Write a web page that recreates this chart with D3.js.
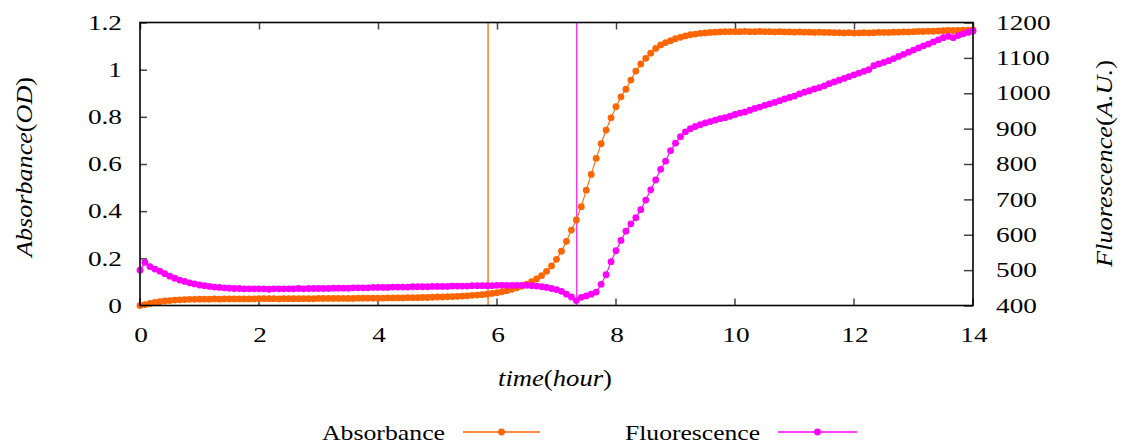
<!DOCTYPE html>
<html>
<head>
<meta charset="utf-8">
<script src="https://cdn.jsdelivr.net/npm/d3@7"></script>
<style>
  html, body { margin: 0; padding: 0; background: #fff; }
  svg { display: block; }
  text { font-family: "Liberation Serif", "Times New Roman", serif; fill: #000; }
</style>
</head>
<body>
<svg id="chart" width="1122" height="444"></svg>
<script>
// ---------------- data ----------------
const sampleIntervalMin = 5; // one reading every 5 minutes, 0 to 14 h
const absorbance = [
  0.000, 0.004, 0.009, 0.013, 0.016, 0.019, 0.021, 0.023, 0.024, 0.025, 0.026, 0.026, 0.027,
  0.027, 0.027, 0.028, 0.027, 0.028, 0.028, 0.028, 0.028, 0.028, 0.028, 0.028, 0.029,
  0.029, 0.029, 0.029, 0.028, 0.029, 0.029, 0.029, 0.029, 0.029, 0.029, 0.029, 0.030,
  0.030, 0.030, 0.030, 0.030, 0.030, 0.030, 0.030, 0.031, 0.031, 0.031, 0.031, 0.031,
  0.031, 0.032, 0.032, 0.032, 0.032, 0.033, 0.033, 0.033, 0.034, 0.034, 0.035, 0.036,
  0.036, 0.037, 0.038, 0.039, 0.040, 0.041, 0.043, 0.044, 0.046, 0.048, 0.051, 0.054,
  0.058, 0.063, 0.069, 0.075, 0.082, 0.091, 0.101, 0.113, 0.127, 0.145, 0.168, 0.196, 0.230, 0.272,
  0.320, 0.363, 0.419, 0.489, 0.556, 0.624, 0.686, 0.744, 0.796, 0.843, 0.885, 0.917, 0.956, 0.994,
  1.024, 1.048, 1.070, 1.090, 1.105, 1.115, 1.123, 1.131, 1.137, 1.143, 1.148, 1.151, 1.154, 1.156, 1.158,
  1.159, 1.160, 1.161, 1.161, 1.161, 1.161, 1.162, 1.161, 1.161, 1.162, 1.161, 1.161, 1.160, 1.161, 1.160,
  1.160, 1.159, 1.160, 1.159, 1.159, 1.158, 1.159, 1.158, 1.158, 1.157, 1.157, 1.156, 1.157, 1.155, 1.156,
  1.157, 1.156, 1.157, 1.158, 1.158,
  1.158, 1.159, 1.159, 1.160, 1.160, 1.161, 1.162, 1.162, 1.163, 1.163, 1.164, 1.165, 1.166, 1.166,
  1.167, 1.168, 1.168, 1.169
];
const fluorescence = [
  500, 522, 510, 503, 497, 490, 483, 477, 472, 468, 464, 461, 458,
  456, 454, 452, 451, 450, 449, 448, 448, 447, 447, 447, 447,
  447, 446, 447, 447, 447, 447, 447, 448, 447, 448, 448, 448,
  448, 448, 449, 449, 449, 449, 450, 450, 450, 450, 451, 451,
  451, 451, 452, 452, 452, 452, 453, 453, 453, 453, 454, 454,
  454, 454, 455, 455, 455, 455, 456, 456, 456, 456, 456, 457,
  457, 457, 457, 457, 457, 457, 456, 455, 453, 451, 448, 445, 440, 432,
  424, 414, 423, 427, 432, 438, 460, 487, 524, 555, 584, 610, 631, 648,
  671, 698, 727, 755, 785, 808, 838, 859, 877, 891, 900, 906, 911, 916, 920,
  924, 928, 931, 935, 940, 944, 947, 952, 957, 961, 966, 970, 974, 979, 984,
  988, 992, 998, 1003, 1007, 1012, 1016, 1021, 1027, 1032, 1037, 1042, 1047, 1052, 1057,
  1062, 1067, 1078, 1083, 1087,
  1092, 1098, 1104, 1110, 1116, 1122, 1128, 1134, 1139, 1145, 1151, 1157, 1161, 1157,
  1163, 1168, 1172, 1176
];
const markerTimes = [5.85, 7.34];          // vertical reference lines (hour)
const xTicks = [0, 2, 4, 6, 8, 10, 12, 14];
const yLeftTicks = [0, 0.2, 0.4, 0.6, 0.8, 1.0, 1.2];
const yLeftLabels = ["0", "0.2", "0.4", "0.6", "0.8", "1", "1.2"];
const yRightTicks = [400, 500, 600, 700, 800, 900, 1000, 1100, 1200];
const seriesNames = ["Absorbance", "Fluorescence"];
const colors = ["#ff6600", "#ff00ff"];

const timeH = absorbance.map((_, i) => i * sampleIntervalMin / 60);

// ---------------- layout ----------------
const svg = d3.select("#chart");
const L = 140, R = 973, T = 22.5, B = 305.5;
const x = d3.scaleLinear().domain([0, 14]).range([L, R]);
const yL = d3.scaleLinear().domain([0, 1.2]).range([B, T]);
const yR = d3.scaleLinear().domain([400, 1200]).range([B, T]);
const tickFont = 21, sx = 1.3;

function stretchTexts(sel) {
  sel.selectAll("text").each(function () {
    const t = d3.select(this);
    const x0 = +t.attr("x") || 0;
    t.attr("x", 0).attr("transform", `translate(${x0},0) scale(${sx},1)`);
  });
}

// axes
const gx = svg.append("g").attr("transform", `translate(0,${B})`)
  .call(d3.axisBottom(x).tickValues(xTicks).tickFormat(d3.format("d")).tickSize(-7).tickPadding(22).tickSizeOuter(0));
const gxt = svg.append("g").attr("transform", `translate(0,${T})`)
  .call(d3.axisTop(x).tickValues(xTicks).tickFormat("").tickSize(-7).tickSizeOuter(0));
const gyl = svg.append("g").attr("transform", `translate(${L},0)`)
  .call(d3.axisLeft(yL).tickValues(yLeftTicks).tickFormat((d, i) => yLeftLabels[i]).tickSize(-7).tickPadding(18).tickSizeOuter(0));
const gyr = svg.append("g").attr("transform", `translate(${R},0)`)
  .call(d3.axisRight(yR).tickValues(yRightTicks).tickFormat(d3.format("d")).tickSize(-9).tickPadding(23).tickSizeOuter(0));
[gx, gxt, gyl, gyr].forEach(g => {
  g.select(".domain").remove();
  g.selectAll(".tick line").attr("stroke", "#444").attr("stroke-width", 1.5);
  g.selectAll("text").attr("font-family", "Liberation Serif").attr("font-size", tickFont).attr("fill", "#000");
});
stretchTexts(gyl); stretchTexts(gyr);
gx.selectAll("text").each(function () {
  d3.select(this).attr("transform", `scale(${sx},1)`);
});
gx.selectAll(".tick").each(function (d) {
  d3.select(this).attr("transform", `translate(${x(d) + 1},0)`);
  d3.select(this).select("line").attr("transform", "translate(-1,0)");
});

// vertical marker lines
svg.append("g").selectAll("line").data(markerTimes).join("line")
  .attr("x1", d => x(d)).attr("x2", d => x(d)).attr("y1", T).attr("y2", B)
  .attr("stroke", (d, i) => colors[i]).attr("stroke-width", (d, i) => i === 0 ? 1.6 : 1.1)
  .attr("stroke-opacity", (d, i) => i === 0 ? 0.8 : 1);

// series
const series = [
  { vals: absorbance, y: yL },
  { vals: fluorescence, y: yR }
];
series.forEach((s, k) => {
  const pts = s.vals.map((v, i) => [x(timeH[i]), s.y(v)]);
  svg.append("path").attr("d", d3.line()(pts)).attr("fill", "none")
    .attr("stroke", colors[k]).attr("stroke-width", 1.1);
  svg.append("g").selectAll("circle").data(pts).join("circle")
    .attr("cx", d => d[0]).attr("cy", d => d[1]).attr("r", 3.4).attr("fill", colors[k]);
});

// frame
svg.append("rect").attr("x", L).attr("y", T).attr("width", R - L).attr("height", B - T)
  .attr("fill", "none").attr("stroke", "#000").attr("stroke-width", 1.6);

// axis titles
function mathTitle(g, parts) {
  parts.forEach(p => g.append("tspan").attr("font-style", p[1] ? "italic" : "normal").text(p[0]));
}
const xt = svg.append("text").attr("x", 555).attr("y", 386).attr("text-anchor", "middle")
  .attr("font-size", 24).attr("textLength", 114).attr("lengthAdjust", "spacingAndGlyphs");
mathTitle(xt, [["time", 1], ["(", 0], ["hour", 1], [")", 0]]);

const ylt = svg.append("text").attr("transform", "translate(32,167) rotate(-90)").attr("text-anchor", "middle")
  .attr("font-size", 24).attr("textLength", 180).attr("lengthAdjust", "spacingAndGlyphs");
mathTitle(ylt, [["Absorbance", 1], ["(", 0], ["OD", 1], [")", 0]]);

const yrt = svg.append("text").attr("transform", "translate(1112,163.5) rotate(-90)").attr("text-anchor", "middle")
  .attr("font-size", 24).attr("textLength", 207).attr("lengthAdjust", "spacingAndGlyphs");
mathTitle(yrt, [["Fluorescence", 1], ["(", 0], ["A.U.", 1], [")", 0]]);

// legend
const legend = [
  { textRight: 445, textLen: 123, x1: 463, x2: 540 },
  { textRight: 760, textLen: 135, x1: 778, x2: 857 }
];
const ly = 432;
legend.forEach((l, k) => {
  svg.append("text").attr("x", l.textRight - l.textLen).attr("y", ly + 8).attr("font-size", 22)
    .attr("textLength", l.textLen).attr("lengthAdjust", "spacingAndGlyphs").text(seriesNames[k]);
  svg.append("line").attr("x1", l.x1).attr("x2", l.x2).attr("y1", ly).attr("y2", ly)
    .attr("stroke", colors[k]).attr("stroke-width", 1.3);
  svg.append("circle").attr("cx", (l.x1 + l.x2) / 2).attr("cy", ly).attr("r", 3.4).attr("fill", colors[k]);
});
</script>
</body>
</html>
